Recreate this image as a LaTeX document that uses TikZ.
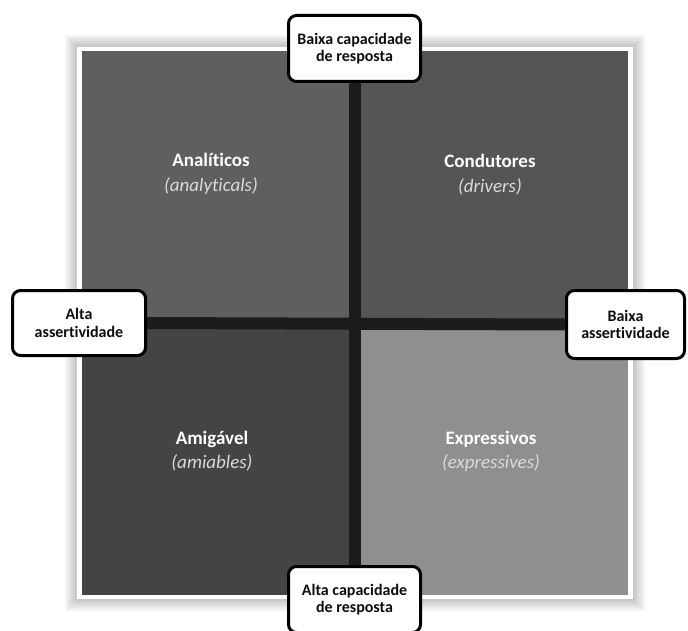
\documentclass[tikz,border=0pt]{standalone}
\usepackage{fontspec}
\setmainfont{Carlito}[Ligatures=NoCommon]
\usetikzlibrary{positioning}
\definecolor{tlgray}{HTML}{5F5F5F}
\definecolor{trgray}{HTML}{555555}
\definecolor{blgray}{HTML}{444444}
\definecolor{brgray}{HTML}{8F8F8F}
\definecolor{bargray}{HTML}{1C1C1C}
\definecolor{subgray}{HTML}{DADADA}
\tikzset{
  axislabel/.style={draw=black, line width=3pt, rounded corners=8pt, fill=white,
    align=center, inner sep=0pt, text=black!95,
    font=\bfseries\fontsize{16}{17.5}\selectfont},
  quadname/.style={anchor=base, text=white, font=\bfseries\fontsize{19}{22}\selectfont},
  quadsub/.style={anchor=base, text=subgray, font=\itshape\fontsize{19}{22}\selectfont},
  crossbar/.style={draw=bargray, line width=12pt}
}
\begin{document}
\begin{tikzpicture}[x=1pt,y=-1pt]
    \useasboundingbox (0,0) rectangle (688,631);
    \clip (0,0) rectangle (688,631);
    % soft shadow round the square
    \foreach \d in {2,4,...,12}
      \fill[black, opacity=0.04] (77-\d,47-\d) rectangle (633+\d,599+\d);
    \fill[white] (77,47) rectangle (633,599);
    % quadrants
    \fill[tlgray] (82,51) rectangle (354,322);
    \fill[trgray] (354,51) rectangle (628,322);
    \fill[blgray] (82,322) rectangle (354,595);
    \fill[brgray] (354,322) rectangle (628,595);
    % quadrant texts
    \node[quadname] (anal) at (211,167) {Analíticos};
    \node[quadsub] (analsub) at (211,191.5) {(analyticals)};
    \node[quadname] (cond) at (490,168) {Condutores};
    \node[quadsub] (condsub) at (490,192.5) {(drivers)};
    \node[quadname] (amig) at (212,444) {Amigável};
    \node[quadsub] (amigsub) at (212,468.5) {(amiables)};
    \node[quadname] (expr) at (491,444) {Expressivos};
    \node[quadsub] (exprsub) at (491,468.5) {(expressives)};
    % axis ends
    \node[axislabel, minimum width=132pt, minimum height=66pt] (top) at (354.5,48.5) {Baixa capacidade\\de resposta};
    \node[axislabel, minimum width=132pt, minimum height=66pt] (bottom) at (354.5,599.5) {Alta capacidade\\de resposta};
    \node[axislabel, minimum width=133pt, minimum height=65pt] (left) at (79,323) {Alta\\assertividade};
    \node[axislabel, minimum width=118pt, minimum height=68pt] (right) at (625.5,324.5) {Baixa\\assertividade};
    % the cross
    \draw[crossbar] (top) -- (bottom);
    \draw[crossbar] (left.east) -- (right.west);
\end{tikzpicture}
\end{document}
